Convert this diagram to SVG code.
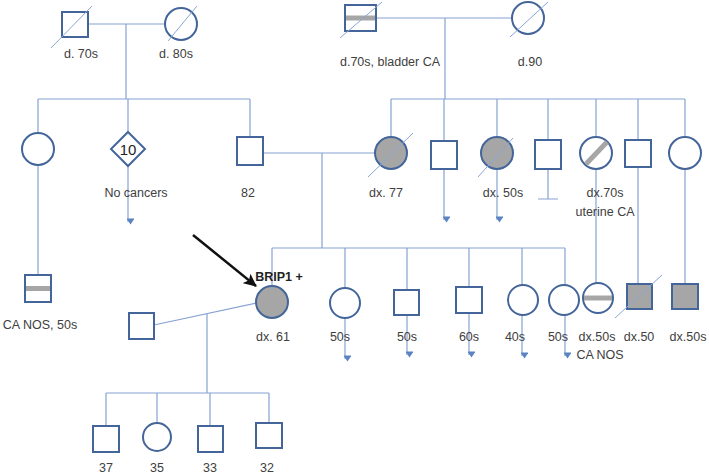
<svg xmlns="http://www.w3.org/2000/svg" width="709" height="474" viewBox="0 0 709 474">
<defs>
<style>
.sym{fill:#fff;stroke:#43659a;stroke-width:2}
.aff{fill:#a6a6a6;stroke:#43659a;stroke-width:2}
.ln{stroke:#86a3d3;stroke-width:1.2;fill:none}
.dec{stroke:#8aa6d6;stroke-width:1;fill:none}
.band{stroke:#a6a6a6;stroke-width:5;fill:none}
text{font-family:"Liberation Sans",Arial,sans-serif;font-size:12.5px;fill:#404040;text-anchor:middle}
.b{font-weight:bold}
</style>
<marker id="ah" markerUnits="userSpaceOnUse" markerWidth="8" markerHeight="7" refX="4" refY="6" orient="auto-start-reverse" viewBox="0 0 8 7">
<path d="M0,0 L8,0 L4,6 Z" fill="#5b83c1" transform="rotate(-90 4 3.5)"/>
</marker>
<marker id="blk" markerUnits="userSpaceOnUse" markerWidth="14" markerHeight="12" refX="12" refY="6" orient="auto" viewBox="0 0 14 12">
<path d="M0,0 L13,6 L0,12 L3,6 Z" fill="#111"/>
</marker>
</defs>
<rect width="709" height="474" fill="#fff"/>
<g id="connectors">
<path class="ln" d="M88,24H166M126,24V99M38,99H250M38,99V133M128,99V132M250,99V137"/>
<path class="ln" d="M128,166V222" marker-end="url(#ah)"/>
<path class="ln" d="M38,165V275"/>
<path class="ln" d="M376,18H512M445,18V99M391,99H685M391,99V137M444,99V141M497,99V137M548,99V140M596,99V137M638,99V140M685,99V137"/>
<path class="ln" d="M444,169V220" marker-end="url(#ah)"/>
<path class="ln" d="M497,169V220" marker-end="url(#ah)"/>
<path class="ln" d="M548,169V199M538,199H558"/>
<path class="ln" d="M596,169V283M638,167V284M685,169V284"/>
<path class="ln" d="M263,153H375M322,153V248M272,248H565M272,248V286M345,248V288M407,248V290M469,248V287M522,248V285M565,248V285"/>
<path class="ln" d="M345,318V359" marker-end="url(#ah)"/>
<path class="ln" d="M407,315V355" marker-end="url(#ah)"/>
<path class="ln" d="M469,313V355" marker-end="url(#ah)"/>
<path class="ln" d="M522,315V356" marker-end="url(#ah)"/>
<path class="ln" d="M565,315V356" marker-end="url(#ah)"/>
<path class="ln" d="M154,325L257,303M207,314V393M106,393H269M106,393V426M157,393V423M210,393V426M269,393V423"/>
</g>
<g id="gf-left"><rect class="sym" x="62" y="12" width="26" height="25"/><path class="dec" d="M51,48L92,6"/><text x="81" y="58">d. 70s</text></g>
<g id="gm-left"><circle class="sym" cx="181" cy="24" r="16"/><path class="dec" d="M168,41L197,6"/><text x="176" y="58">d. 80s</text></g>
<g id="gf-right"><rect class="sym" x="345" y="5" width="31" height="26"/><path class="band" d="M346,18H375"/><path class="dec" d="M340,38L382,2"/><text x="390" y="66">d.70s, bladder  CA</text></g>
<g id="gm-right"><circle class="sym" cx="528" cy="18" r="16"/><path class="dec" d="M510,37L548,2"/><text x="530" y="66">d.90</text></g>
<g id="aunt-left"><circle class="sym" cx="38" cy="149" r="16"/></g>
<g id="sibs-10"><path class="sym" d="M128,132L145,149L128,166L111,149Z"/><text x="128" y="155" style="font-size:15px;fill:#222">10</text><text x="136" y="197">No cancers</text></g>
<g id="father"><rect class="sym" x="237" y="137" width="26" height="28"/><text x="248" y="197">82</text></g>
<g id="cousin-left"><rect class="sym" x="25" y="275" width="26" height="27"/><path class="band" d="M26,288.5H50"/><text x="40" y="329">CA NOS, 50s</text></g>
<g id="mother"><circle class="aff" cx="391" cy="153" r="16"/><path class="dec" d="M368,177L413,133"/><text x="386" y="197">dx. 77</text></g>
<g id="uncle1"><rect class="sym" x="431" y="141" width="26" height="28"/></g>
<g id="aunt2"><circle class="aff" cx="497" cy="153" r="16"/><path class="dec" d="M478,177L513,138"/><text x="503" y="197">dx. 50s</text></g>
<g id="uncle2"><rect class="sym" x="535" y="140" width="26" height="29"/></g>
<g id="aunt3"><circle class="sym" cx="596" cy="153" r="16"/><path class="band" d="M586,164L607,142"/><text x="605" y="197">dx.70s</text><text x="605" y="216">uterine CA</text></g>
<g id="uncle3"><rect class="sym" x="625" y="140" width="26" height="27"/></g>
<g id="aunt4"><circle class="sym" cx="685" cy="153" r="16"/></g>
<g id="proband"><circle class="aff" cx="272" cy="302" r="16"/><text class="b" x="279" y="281" style="fill:#222">BRIP1 +</text><text x="273" y="341">dx. 61</text></g>
<g id="proband-arrow"><path d="M193,235L256,286" stroke="#111" stroke-width="2.5" fill="none" marker-end="url(#blk)"/></g>
<g id="sib1"><circle class="sym" cx="345" cy="303" r="15"/><text x="340" y="341">50s</text></g>
<g id="sib2"><rect class="sym" x="394" y="290" width="25" height="25"/><text x="407" y="341">50s</text></g>
<g id="sib3"><rect class="sym" x="456" y="287" width="26" height="26"/><text x="469" y="341">60s</text></g>
<g id="sib4"><circle class="sym" cx="523" cy="300" r="15"/><text x="515" y="341">40s</text></g>
<g id="sib5"><circle class="sym" cx="564" cy="300" r="15"/><text x="558" y="341">50s</text></g>
<g id="cousin-r1"><circle class="sym" cx="598" cy="298" r="15"/><path class="band" d="M584,298H612"/><text x="597" y="341">dx.50s</text><text x="600" y="359">CA NOS</text></g>
<g id="cousin-r2"><rect class="aff" x="627" y="284" width="25" height="25"/><path class="dec" d="M615,318L662,275"/><text x="639" y="341">dx.50</text></g>
<g id="cousin-r3"><rect class="aff" x="672" y="284" width="26" height="25"/><text x="688" y="341">dx.50s</text></g>
<g id="spouse"><rect class="sym" x="129" y="313" width="25" height="26"/></g>
<g id="child1"><rect class="sym" x="93" y="426" width="26" height="26"/><text x="106" y="472">37</text></g>
<g id="child2"><circle class="sym" cx="157" cy="437" r="14"/><text x="157" y="472">35</text></g>
<g id="child3"><rect class="sym" x="198" y="426" width="25" height="26"/><text x="210" y="472">33</text></g>
<g id="child4"><rect class="sym" x="256" y="423" width="26" height="25"/><text x="267" y="472">32</text></g>
</svg>
